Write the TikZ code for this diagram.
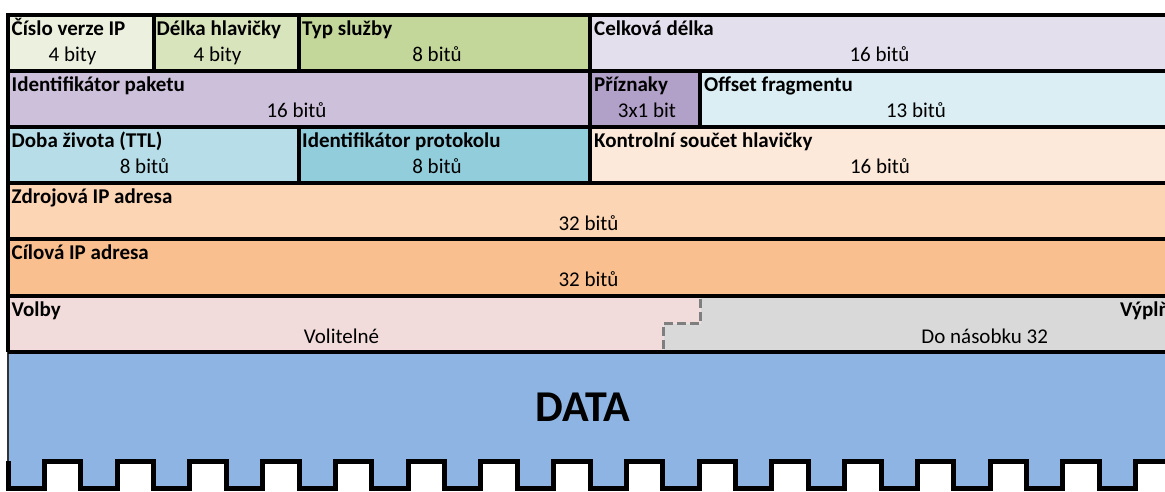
\documentclass[tikz,border=0pt]{standalone}
\usepackage{fontspec}
\setmainfont{Carlito}

% Excel-style cell fills
\definecolor{cVer}{HTML}{EBF1DE}
\definecolor{cHdr}{HTML}{D8E4BC}
\definecolor{cTos}{HTML}{C4D79B}
\definecolor{cLen}{HTML}{E4DFEC}
\definecolor{cIdn}{HTML}{CCC0DA}
\definecolor{cFlg}{HTML}{B1A0C7}
\definecolor{cOff}{HTML}{DAEEF3}
\definecolor{cTtl}{HTML}{B7DEE8}
\definecolor{cPrt}{HTML}{92CDDC}
\definecolor{cSum}{HTML}{FDE9D9}
\definecolor{cSrc}{HTML}{FCD5B4}
\definecolor{cDst}{HTML}{FABF8F}
\definecolor{cOpt}{HTML}{F2DCDB}
\definecolor{cPad}{HTML}{D9D9D9}
\definecolor{cData}{HTML}{8DB4E2}
\definecolor{cDash}{HTML}{7F7F7F}

\begin{document}
\begin{tikzpicture}[x=1pt,y=-1pt,
  cell/.style={draw=black, line width=4pt},
  title/.style={anchor=base west, inner sep=0pt, font=\bfseries\fontsize{21}{25}\selectfont},
  title right/.style={anchor=base east, inner sep=0pt, font=\bfseries\fontsize{21}{25}\selectfont},
  value/.style={anchor=base, inner sep=0pt, font=\fontsize{21}{25}\selectfont},
  bigtext/.style={anchor=base, inner sep=0pt, font=\bfseries\fontsize{44}{52}\selectfont},
  stepline/.style={draw=cDash, line width=3pt, dash pattern=on 9pt off 4pt},
  wave/.style={draw=black, line width=5pt, line join=miter},
]
\useasboundingbox (0,0) rectangle (1165,491);
\clip (0,0) rectangle (1165,491);

% row 1
\filldraw[fill=cVer, cell] (8,14.5) rectangle (153.5,70.7);
\filldraw[fill=cHdr, cell] (153.5,14.5) rectangle (299,70.7);
\filldraw[fill=cTos, cell] (299,14.5) rectangle (590,70.7);
\filldraw[fill=cLen, cell] (590,14.5) rectangle (1172,70.7);
% row 2
\filldraw[fill=cIdn, cell] (8,70.7) rectangle (590,126.9);
\filldraw[fill=cFlg, cell] (590,70.7) rectangle (699.5,126.9);
\filldraw[fill=cOff, cell] (699.5,70.7) rectangle (1172,126.9);
% row 3
\filldraw[fill=cTtl, cell] (8,126.9) rectangle (299,183.1);
\filldraw[fill=cPrt, cell] (299,126.9) rectangle (590,183.1);
\filldraw[fill=cSum, cell] (590,126.9) rectangle (1172,183.1);
% rows 4 and 5
\filldraw[fill=cSrc, cell] (8,183.1) rectangle (1172,239.3);
\filldraw[fill=cDst, cell] (8,239.3) rectangle (1172,295.5);

% row 6: options and padding split by a stepped boundary
\fill[cOpt] (8,295.5) -- (700.5,295.5) -- (700.5,323.6) -- (663.5,323.6) -- (663.5,351.7) -- (8,351.7) -- cycle;
\fill[cPad] (700.5,295.5) -- (1172,295.5) -- (1172,351.7) -- (663.5,351.7) -- (663.5,323.6) -- (700.5,323.6) -- cycle;
\draw[stepline] (700.5,299) -- (700.5,323.6) -- (663.5,323.6) -- (663.5,351.7);

% data block with a torn (square-wave) lower edge
\fill[cData] (8,351.7) -- (8,488)
  \foreach \k in {0,...,15} {
    -- ({8+(2*\k+1)*36.375},488) -- ({8+(2*\k+1)*36.375},461)
    -- ({8+(2*\k+2)*36.375},461) -- ({8+(2*\k+2)*36.375},488)
  } -- (1172,351.7) -- cycle;
\draw[black!80, line width=1.5pt] (8,351.7) -- (8,461);
\draw[wave] (8,461) -- (8,488)
  \foreach \k in {0,...,15} {
    -- ({8+(2*\k+1)*36.375},488) -- ({8+(2*\k+1)*36.375},461)
    -- ({8+(2*\k+2)*36.375},461) -- ({8+(2*\k+2)*36.375},488)
  };

% row 6 frame
\draw[cell] (8,295.5) -- (1172,295.5);
\draw[cell] (8,351.7) -- (1172,351.7);
\draw[cell] (8,295.5) -- (8,351.7);

% field names
\node[title] (nVer) at (11.5,35) {Číslo verze IP};
\node[title] (nHdr) at (156.5,35) {Délka hlavičky};
\node[title] (nTos) at (302,35) {Typ služby};
\node[title] (nLen) at (594,35) {Celková délka};
\node[title] (nIdn) at (11.5,91.2) {Identifikátor paketu};
\node[title] (nFlg) at (594,91.2) {Příznaky};
\node[title] (nOff) at (704,91.2) {Offset fragmentu};
\node[title] (nTtl) at (11.5,147.4) {Doba života (TTL)};
\node[title] (nPrt) at (302,147.4) {Identifikátor protokolu};
\node[title] (nSum) at (594,147.4) {Kontrolní součet hlavičky};
\node[title] (nSrc) at (11.5,203.6) {Zdrojová IP adresa};
\node[title] (nDst) at (11.5,259.8) {Cílová IP adresa};
\node[title] (nOpt) at (11.5,316) {Volby};
\node[title right] (nPad) at (1170,316) {Výplň};

% field sizes
\node[value] (vVer) at (72.5,61.5) {4 bity};
\node[value] (vHdr) at (217.5,61.5) {4 bity};
\node[value] (vTos) at (437,61.5) {8 bitů};
\node[value] (vLen) at (879.5,61.5) {16 bitů};
\node[value] (vIdn) at (296.5,117.7) {16 bitů};
\node[value] (vFlg) at (647,117.7) {3x1 bit};
\node[value] (vOff) at (916,117.7) {13 bitů};
\node[value] (vTtl) at (144.5,173.9) {8 bitů};
\node[value] (vPrt) at (437,173.9) {8 bitů};
\node[value] (vSum) at (880,173.9) {16 bitů};
\node[value] (vSrc) at (588.5,230.1) {32 bitů};
\node[value] (vDst) at (588.5,286.3) {32 bitů};
\node[value] (vOpt) at (341.5,343) {Volitelné};
\node[value] (vPad) at (984.7,343) {Do násobku 32};

\node[bigtext] (data) at (583,421) {DATA};
\end{tikzpicture}
\end{document}
